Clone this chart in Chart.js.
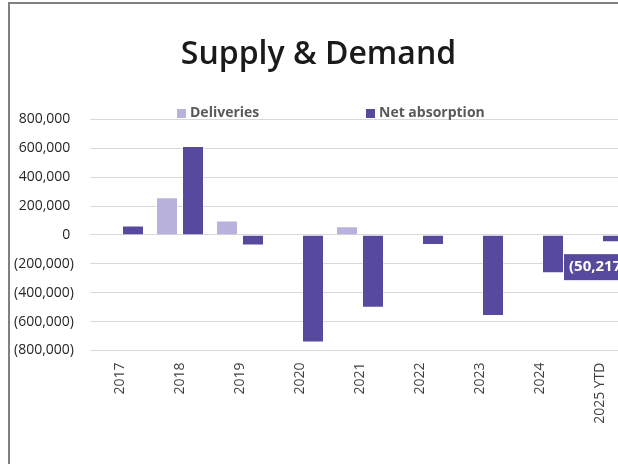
<!DOCTYPE html>
<html>
<head>
<meta charset="utf-8">
<script src="https://cdn.jsdelivr.net/npm/chart.js@4.4.1/dist/chart.umd.min.js"></script>
<style>
  html, body { margin: 0; padding: 0; background: #fff; overflow: hidden; width: 618px; height: 464px; }
  #frame { position: absolute; left: 8px; top: 2px; width: 800px; height: 600px;
           border-left: 2px solid #808080; border-top: 2px solid #808080; }
  #c { position: absolute; left: 0; top: 0; }
</style>
</head>
<body>
<div id="frame"></div>
<canvas id="c" width="640" height="464"></canvas>
<script>
'use strict';

var years = ['2017', '2018', '2019', '2020', '2021', '2022', '2023', '2024', '2025 YTD'];
var deliveries = [null, 260000, 100000, null, 60000, null, null, null, null];
var netAbsorption = [65000, 615000, -74000, -745000, -505000, -70000, -562000, -265000, -50217];
var yTicks = [800000, 600000, 400000, 200000, 0, -200000, -400000, -600000, -800000];

var lightPurple = '#B8B2DC';
var darkPurple = '#574A9E';

function fmt(v) {
    var s = Math.abs(v).toLocaleString('en-US');
    return v < 0 ? '(' + s + ')' : s + ' ';
}

// legend drawn by hand so it can sit where the original one sits
var legendPlugin = {
    id: 'legendBoxes',
    afterDraw: function (chart) {
        var ctx = chart.ctx;
        var spots = [177, 366];
        ctx.save();
        ctx.font = 'bold 14px "Open Sans"';
        ctx.textBaseline = 'middle';
        ctx.textAlign = 'left';
        chart.data.datasets.forEach(function (ds, i) {
            ctx.fillStyle = ds.backgroundColor;
            ctx.fillRect(spots[i], 109, 9, 9);
            ctx.fillStyle = '#595959';
            ctx.fillText(ds.label, spots[i] + 13, 113);
        });
        ctx.restore();
    }
};

// the one data label on the last net absorption bar
var labelPlugin = {
    id: 'ytdLabel',
    afterDatasetsDraw: function (chart) {
        var ctx = chart.ctx;
        var idx = netAbsorption.length - 1;
        var bar = chart.getDatasetMeta(1).data[idx];
        var text = fmt(netAbsorption[idx]);
        ctx.save();
        ctx.font = 'bold 15px "Open Sans"';
        var w = ctx.measureText(text).width + 10;
        var left = bar.x - 49;
        var top = Math.max(bar.y, bar.base) + 12;
        ctx.fillStyle = darkPurple;
        ctx.fillRect(left, top, w, 26);
        ctx.fillStyle = '#ffffff';
        ctx.textBaseline = 'middle';
        ctx.fillText(text, left + 5, top + 13);
        ctx.restore();
    }
};

var ctx = document.getElementById('c').getContext('2d');
var chart = new Chart(ctx, {
    type: 'bar',
    data: {
        labels: years,
        datasets: [{
            label: 'Deliveries',
            data: deliveries,
            backgroundColor: lightPurple,
            borderColor: 'rgba(255,255,255,0.45)',
            borderWidth: 1,
            categoryPercentage: 0.867,
            barPercentage: 0.846
        }, {
            label: 'Net absorption',
            data: netAbsorption,
            backgroundColor: darkPurple,
            borderColor: 'rgba(255,255,255,0.3)',
            borderWidth: 1,
            categoryPercentage: 0.867,
            barPercentage: 0.846
        }]
    },
    options: {
        responsive: false,
        animation: false,
        devicePixelRatio: 1,
        layout: { padding: { left: 7, right: 10, top: 0, bottom: 0 } },
        plugins: {
            legend: { display: false },
            tooltip: { enabled: false },
            title: {
                display: true,
                text: 'Supply & Demand',
                color: '#1a1a1a',
                font: { family: 'Open Sans', size: 32, weight: '600' },
                padding: { top: 36, bottom: 44.9 }
            }
        },
        scales: {
            x: {
                grid: { display: false, drawTicks: false },
                border: { display: false },
                ticks: {
                    color: '#404040',
                    font: { family: 'Open Sans', size: 14 },
                    minRotation: 90,
                    maxRotation: 90,
                    padding: 12,
                    autoSkip: false
                },
                afterFit: function (s) { s.height = 113.5; }
            },
            y: {
                min: -800000,
                max: 800000,
                afterBuildTicks: function (s) {
                    s.ticks = yTicks.map(function (v) { return { value: v }; });
                },
                grid: { color: '#D9D9D9', lineWidth: 1, drawTicks: false },
                border: { display: false },
                ticks: {
                    color: '#262626',
                    padding: 16,
                    font: { family: 'Open Sans', size: 14 },
                    callback: function (v) { return fmt(v); }
                },
                afterFit: function (s) { s.width = 83; }
            }
        }
    },
    plugins: [legendPlugin, labelPlugin]
});
</script>
</body>
</html>
